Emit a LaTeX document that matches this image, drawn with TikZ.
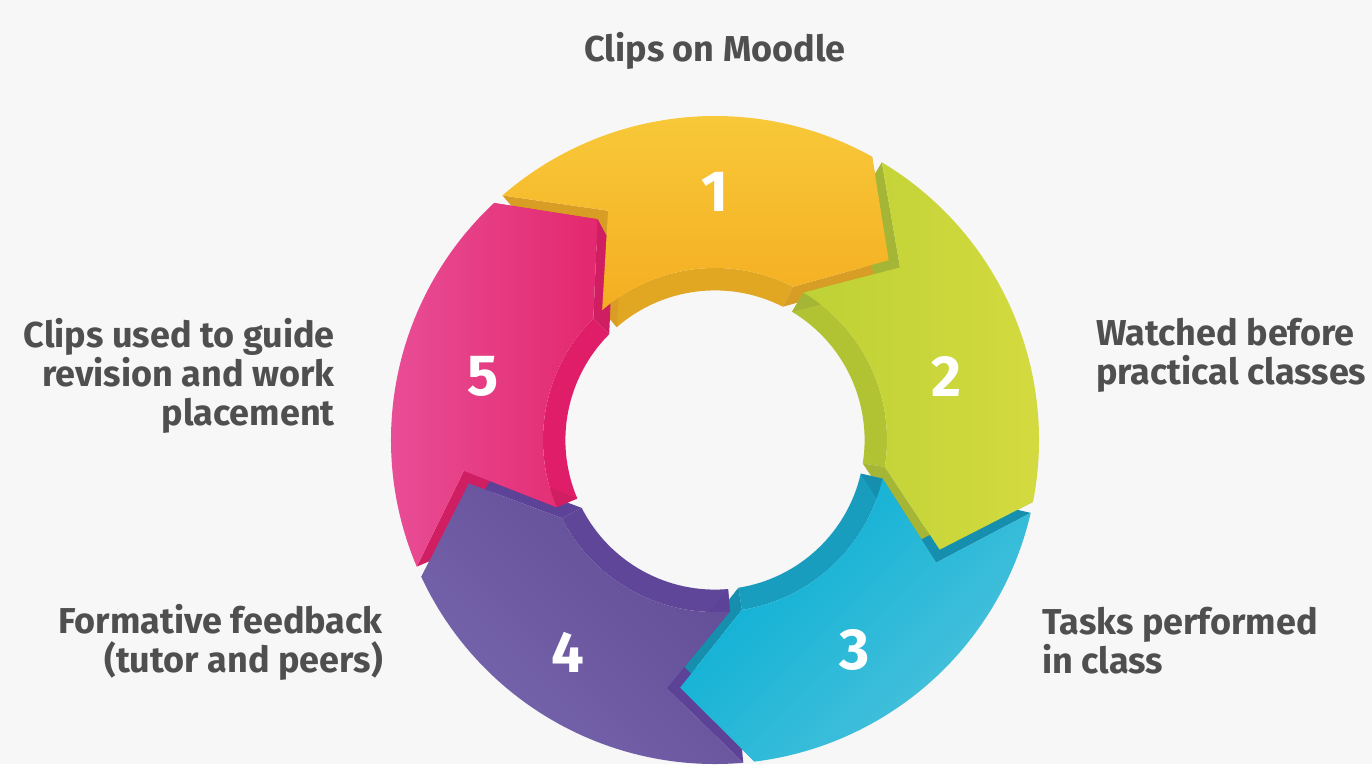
\documentclass[tikz,border=0pt]{standalone}
\usepackage{fontspec}
\setmainfont{Fira Sans}
\definecolor{bgcol}{HTML}{F7F7F7}
\definecolor{labelgray}{HTML}{4F4F4F}
% face colours
\definecolor{yellowA}{HTML}{F8CC3C}\definecolor{yellowB}{HTML}{F4AE21}
\definecolor{greenA}{HTML}{BED135}\definecolor{greenB}{HTML}{D5DB40}
\definecolor{cyanA}{HTML}{06AED4}\definecolor{cyanB}{HTML}{4EC3DC}
\definecolor{purpleA}{HTML}{624B96}\definecolor{purpleB}{HTML}{7666AD}
\definecolor{pinkA}{HTML}{E9529B}\definecolor{pinkB}{HTML}{E3286E}
% wall colours (inner rim, side)
\definecolor{yellowW}{HTML}{E1A622}\definecolor{yellowS}{HTML}{D89D25}
\definecolor{greenW}{HTML}{B1C233}\definecolor{greenS}{HTML}{A5B637}
\definecolor{cyanW}{HTML}{189DBF}\definecolor{cyanS}{HTML}{168FAF}
\definecolor{purpleW}{HTML}{5F4699}\definecolor{purpleS}{HTML}{5C4398}
\definecolor{pinkW}{HTML}{E01D68}\definecolor{pinkS}{HTML}{D01E62}

% ring geometry: outer radius 324, face inner radius 172,
% extrusion seen as the face scaled by 0.87 towards the centre
\newcommand\segangles[2]{%
  \pgfmathsetmacro\tipang{#2-15}%
  \pgfmathsetmacro\notchang{#1-16}%
  \pgfmathsetmacro\innang{#2+2}%
}
% #1 start angle, #2 end angle, #3 rim colour, #4 side colour
\newcommand\segwall[4]{%
  \segangles{#1}{#2}%
  \fill[#3] (\innang:172) arc[start angle=\innang, end angle=#1, radius=172]
     -- (#1:149.6) arc[start angle=#1, end angle=\innang, radius=149.6] -- cycle;
  \fill[#4] (#1:324) -- (\notchang:253) -- (\notchang:220.1) -- (#1:281.9) -- cycle;
  \fill[#4] (\notchang:253) -- (#1:172) -- (#1:149.6) -- (\notchang:220.1) -- cycle;
  \fill[#4] (#2:324) -- (\tipang:250) -- (\tipang:217.5) -- (#2:281.9) -- cycle;
  \fill[#4] (\tipang:250) -- (\innang:172) -- (\innang:149.6) -- (\tipang:217.5) -- cycle;
}
% #1 start angle, #2 end angle, #3 shading options
\newcommand\segface[3]{%
  \segangles{#1}{#2}%
  \shade[#3] (#1:324) arc[start angle=#1, end angle=#2, radius=324]
     -- (\tipang:250) -- (\innang:172)
     arc[start angle=\innang, end angle=#1, radius=172]
     -- (\notchang:253) -- cycle;
}

\begin{document}
\begin{tikzpicture}[x=1pt,y=1pt,
  steplabel/.style={text=labelgray, inner sep=0pt,
    font=\fontsize{36}{39}\selectfont\bfseries},
  stepnum/.style={text=white, inner sep=0pt,
    font=\fontsize{58}{58}\selectfont\bfseries}]
\fill[bgcol] (-715,-324) rectangle (657,440);
\useasboundingbox (-715,-324) rectangle (657,440);

% side and rim walls
\segwall{131}{61}{yellowW}{yellowS}
\segwall{59}{-11}{greenW}{greenS}
\segwall{-13}{-83}{cyanW}{cyanS}
\segwall{-85}{-155}{purpleW}{purpleS}
\segwall{-157}{-227}{pinkW}{pinkS}

% top faces
\segface{131}{61}{top color=yellowA, bottom color=yellowB}
\segface{59}{-11}{left color=greenA, right color=greenB}
\segface{-13}{-83}{top color=cyanA, bottom color=cyanB, shading angle=45}
\segface{-85}{-155}{top color=purpleA, bottom color=purpleB, shading angle=-45}
\segface{-157}{-227}{left color=pinkA, right color=pinkB}

% step numbers
\node[stepnum] (n1) at (0,248) {1};
\node[stepnum] (n2) at (231,64) {2};
\node[stepnum] (n3) at (140,-210) {3};
\node[stepnum] (n4) at (-147,-212) {4};
\node[stepnum] (n5) at (-232,64) {5};

% captions (base anchor sits on the last line)
\node[steplabel, anchor=base] (l1) at (0,378) {Clips on Moodle};
\node[steplabel, anchor=base west, align=left] (l2) at (381,56)
  {Watched before\\practical classes};
\node[steplabel, anchor=base west, align=left] (l3) at (327,-233)
  {Tasks performed\\in class};
\node[steplabel, anchor=base east, align=right] (l4) at (-332,-232)
  {Formative feedback\\(tutor and peers)};
\node[steplabel, anchor=base east, align=right] (l5) at (-380,15)
  {Clips used to guide\\revision and work\\placement};
\end{tikzpicture}
\end{document}
